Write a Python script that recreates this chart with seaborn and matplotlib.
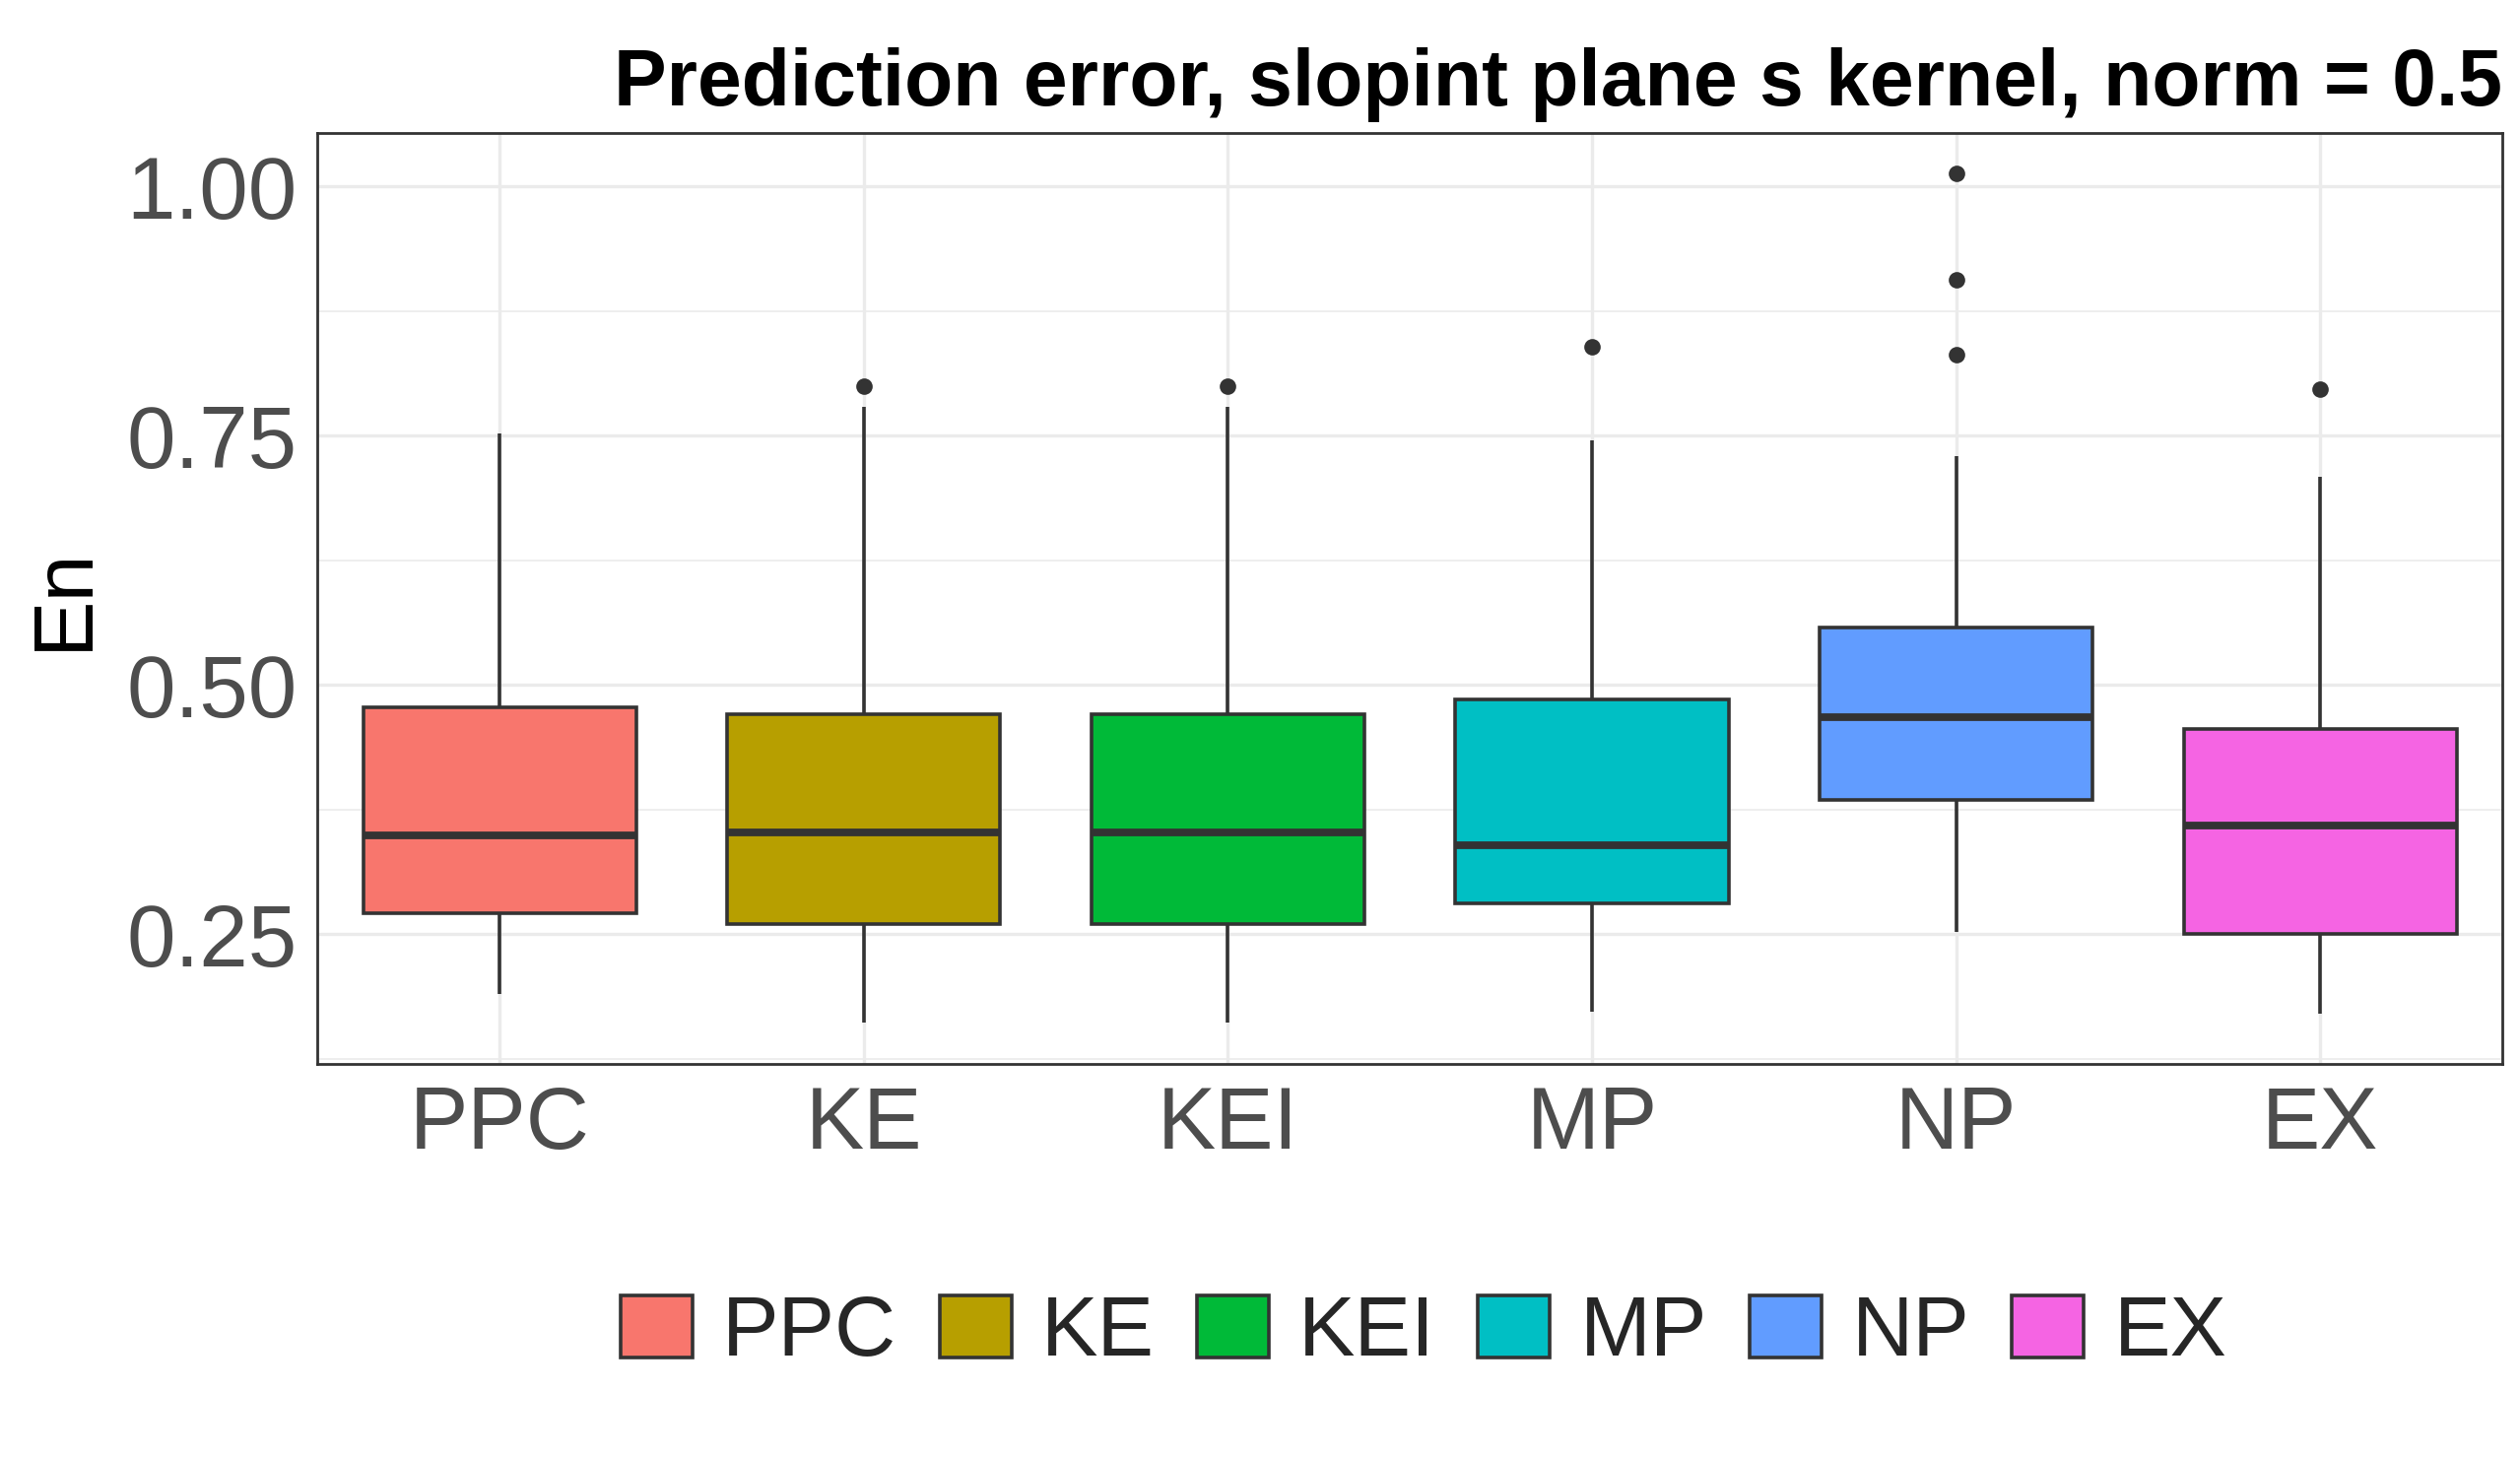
import numpy as np
import pandas as pd
import seaborn as sns
import matplotlib.pyplot as plt
from matplotlib.patches import Patch

methods = ['PPC', 'KE', 'KEI', 'MP', 'NP', 'EX']
colors = ['#F8766D', '#B79F00', '#00BA38', '#00BFC4', '#619CFF', '#F564E3']
whisk_lo = [0.190, 0.161, 0.161, 0.172, 0.252, 0.170]
q1 = [0.271, 0.260, 0.260, 0.281, 0.385, 0.250]
med = [0.349, 0.352, 0.352, 0.339, 0.468, 0.359]
q3 = [0.477, 0.471, 0.471, 0.485, 0.557, 0.456]
whisk_hi = [0.752, 0.779, 0.779, 0.745, 0.729, 0.709]
outliers = [[], [0.800], [0.800], [0.839], [0.831, 0.906, 1.013], [0.797]]

# 17 values per method so that the quartiles land exactly on the stats above
rows = []
for i, m in enumerate(methods):
    vals = [whisk_lo[i]] + [q1[i]] * 4 + [med[i]] * 4 + [q3[i]] * 4
    top = [whisk_hi[i]] * (4 - len(outliers[i])) + outliers[i]
    for v in vals + top:
        rows.append((m, v))
df = pd.DataFrame(rows, columns=['method', 'En'])

sns.set_theme(style='whitegrid')
plt.rcParams['font.family'] = ['Liberation Sans', 'DejaVu Sans']

fig = plt.figure(figsize=(12.79, 7.395), dpi=200)
ax = fig.add_axes([0.126, 0.27, 0.867, 0.639])
sns.boxplot(data=df, x='method', y='En', hue='method', order=methods,
            palette=colors, saturation=1, width=0.75, linewidth=1.3,
            linecolor='#333333', whis=1.5, dodge=False, legend=False, ax=ax,
            showcaps=False, medianprops={'linewidth': 2.8},
            flierprops={'marker': 'o', 'markersize': 5, 'markerfacecolor': '#333333',
                        'markeredgecolor': '#333333'})
ax.set_ylim(0.12, 1.054)
ax.set_yticks([0.25, 0.5, 0.75, 1.0])
ax.set_yticklabels(['0.25', '0.50', '0.75', '1.00'])
ax.set_yticks([0.375, 0.625, 0.875, 0.125], minor=True)
ax.grid(True, which='major', color='#EBEBEB', linewidth=1.2)
ax.grid(True, which='minor', color='#EBEBEB', linewidth=0.6)
ax.xaxis.grid(True)
ax.set_xlabel('')
ax.set_ylabel('En', fontsize=31, color='black', labelpad=8)
ax.tick_params(axis='both', labelsize=32, labelcolor='#4D4D4D', colors='#333333',
               length=4, width=1)
for s in ax.spines.values():
    s.set_color('#333333')
    s.set_linewidth(1)
ax.set_title('Prediction error, slopint plane s kernel, norm = 0.5',
             fontsize=29, fontweight='bold', loc='right', pad=10, color='black')

handles = [Patch(facecolor=c, edgecolor='#333333', linewidth=1.3, label=m)
           for m, c in zip(methods, colors)]
fig.legend(handles=handles, loc='lower center', ncol=6, frameon=False,
           fontsize=31, bbox_to_anchor=(0.565, 0.005), handlelength=0.85,
           handleheight=0.75, handletextpad=0.35, columnspacing=0.5)

fig.savefig('out.png', dpi=200)
